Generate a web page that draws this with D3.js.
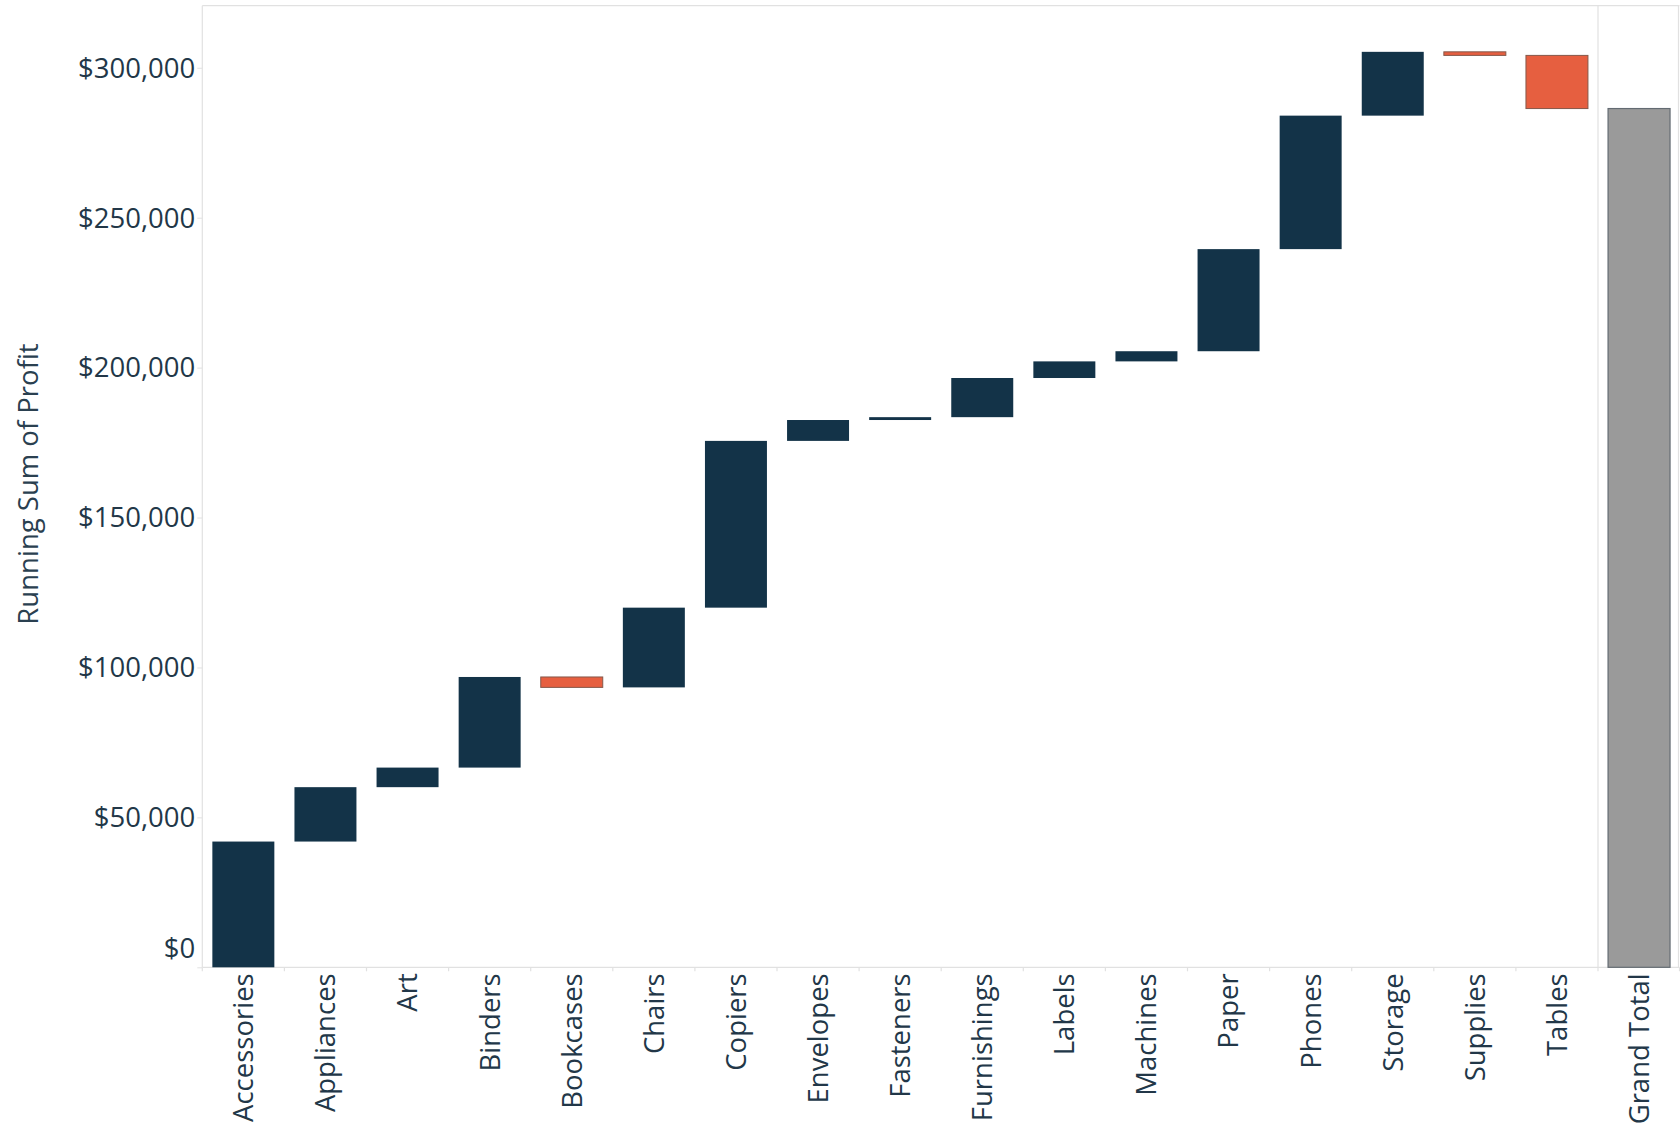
<!DOCTYPE html>
<html>
<head>
<meta charset="utf-8">
<script src="https://cdn.jsdelivr.net/npm/d3@7"></script>
<style>
  html, body { margin: 0; padding: 0; background: #fff; }
  svg { display: block; font-family: "Open Sans", "Noto Sans", sans-serif; }
</style>
</head>
<body>
<svg id="chart" width="1680" height="1132"></svg>
<script>
// ---- data ----
const categories = ["Accessories", "Appliances", "Art", "Binders", "Bookcases", "Chairs", "Copiers",
  "Envelopes", "Fasteners", "Furnishings", "Labels", "Machines", "Paper", "Phones", "Storage",
  "Supplies", "Tables"];
const profit = [41937, 18138, 6528, 30222, -3473, 26590, 55618, 6964, 950, 13059, 5546, 3385,
  34054, 44516, 21279, -1189, -17725];
const totalLabel = "Grand Total";
const yTicks = [0, 50000, 100000, 150000, 200000, 250000, 300000];
const yTitle = "Running Sum of Profit";

// ---- derived running sums ----
const bars = [];
let run = 0;
categories.forEach((c, i) => {
  const start = run;
  run += profit[i];
  bars.push({ cat: c, start: start, end: run, value: profit[i] });
});
const grandTotal = run;

// ---- layout ----
const plotLeft = 202.3, plotRight = 1679.5, plotTop = 5.7, plotBottom = 967.3;
const allCats = categories.concat([totalLabel]);

const x = d3.scaleBand().domain(allCats).range([plotLeft, 1680.1])
  .paddingInner(0.245).paddingOuter(0.1225);
const y = d3.scaleLinear().domain([0, 320700]).range([plotBottom, plotTop]);

const svg = d3.select("#chart");
const textColor = "#223748";
const lineColor = "#e1e1e1";

// plot frame
const sepX = x(totalLabel) - x.step() * x.paddingInner() / 2;
svg.append("line").attr("x1", plotLeft).attr("x2", plotRight).attr("y1", plotTop).attr("y2", plotTop)
  .attr("stroke", lineColor).attr("stroke-width", 1.2);
svg.append("line").attr("x1", plotLeft).attr("x2", plotLeft).attr("y1", plotTop).attr("y2", plotBottom)
  .attr("stroke", lineColor).attr("stroke-width", 1.2);
svg.append("line").attr("x1", plotRight - 1).attr("x2", plotRight - 1).attr("y1", plotTop).attr("y2", plotBottom)
  .attr("stroke", lineColor).attr("stroke-width", 1.2);
svg.append("line").attr("x1", sepX).attr("x2", sepX).attr("y1", plotTop).attr("y2", plotBottom)
  .attr("stroke", lineColor).attr("stroke-width", 1.2);

// y axis
const yAxis = d3.axisLeft(y).tickValues(yTicks).tickSize(5).tickPadding(2)
  .tickFormat(d => "$" + d3.format(",")(d));
const gy = svg.append("g").attr("transform", `translate(${plotLeft},0)`).call(yAxis);
gy.select(".domain").remove();
gy.selectAll(".tick line").attr("stroke", lineColor);
gy.selectAll(".tick text").attr("fill", textColor).attr("font-size", 27.5)
  .attr("font-family", "'Open Sans', sans-serif")
  .attr("dy", d => d === 0 ? "-0.35em" : "0.34em");

// x axis
const xAxis = d3.axisBottom(x).tickSize(0).tickPadding(0);
const gx = svg.append("g").attr("transform", `translate(0,${plotBottom})`).call(xAxis);
gx.select(".domain").attr("stroke", lineColor).attr("stroke-width", 1.2)
  .attr("d", `M${plotLeft},0H${plotRight}`);
gx.selectAll(".tick text")
  .attr("fill", textColor).attr("font-size", 27.5).attr("font-family", "'Open Sans', sans-serif")
  .attr("text-anchor", "end")
  .attr("transform", "rotate(-90)")
  .attr("x", -6).attr("y", 0).attr("dy", "0.36em");
// category divider ticks
const edges = allCats.map(c => x(c) - x.step() * x.paddingInner() / 2).concat([plotRight]);
gx.selectAll(".divtick").data(edges).enter().append("line").attr("class", "divtick")
  .attr("x1", d => d).attr("x2", d => d).attr("y1", 0).attr("y2", 4)
  .attr("stroke", lineColor).attr("stroke-width", 1.2);

// bars
svg.append("g").selectAll("rect.step").data(bars).enter().append("rect").attr("class", "step")
  .attr("x", d => x(d.cat))
  .attr("width", x.bandwidth())
  .attr("y", d => y(Math.max(d.start, d.end)))
  .attr("height", d => Math.abs(y(d.start) - y(d.end)))
  .attr("fill", d => d.value >= 0 ? "#133348" : "#e65f40")
  .attr("stroke", d => d.value >= 0 ? "none" : "#85584a")
  .attr("stroke-width", 1);

svg.append("rect")
  .attr("x", x(totalLabel)).attr("width", x.bandwidth())
  .attr("y", y(grandTotal)).attr("height", y(0) - y(grandTotal))
  .attr("fill", "#9a9a9a").attr("stroke", "#636b72").attr("stroke-width", 1.2);

// y title
svg.append("text")
  .attr("transform", `translate(28,484) rotate(-90)`)
  .attr("text-anchor", "middle").attr("dy", "0.35em")
  .attr("fill", "#2a4050").attr("font-size", 27.5)
  .attr("font-family", "'Open Sans', sans-serif")
  .text(yTitle);
</script>
</body>
</html>
